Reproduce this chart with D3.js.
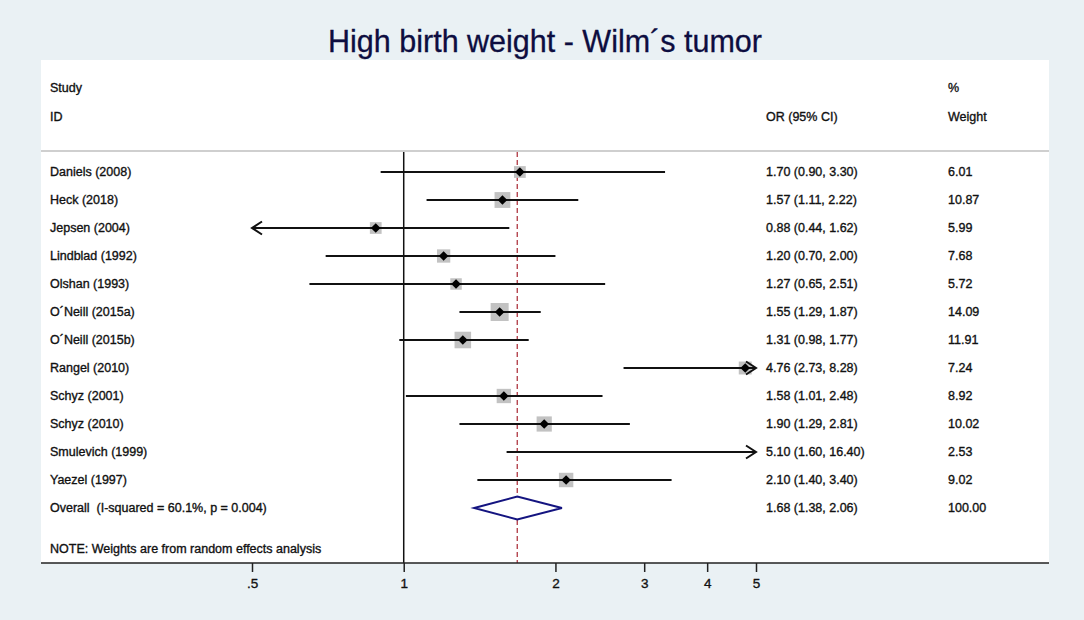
<!DOCTYPE html>
<html>
<head>
<meta charset="utf-8">
<script src="https://cdnjs.cloudflare.com/ajax/libs/d3/7.8.5/d3.min.js"></script>
<style>
  body { margin: 0; background: #eaf1f4; }
  svg { display: block; font-family: Arial, "Liberation Sans", sans-serif; }
  text { white-space: pre; }
  .lbl { stroke: #111; stroke-width: 0.35px; }
</style>
</head>
<body>
<div id="chart"></div>
<script>
// study data
var studies = ["Daniels (2008)", "Heck (2018)", "Jepsen (2004)", "Lindblad (1992)", "Olshan (1993)",
  "O\u00b4Neill (2015a)", "O\u00b4Neill (2015b)", "Rangel (2010)", "Schyz (2001)", "Schyz (2010)",
  "Smulevich (1999)", "Yaezel (1997)"];
var oddsRatio = [1.70, 1.57, 0.88, 1.20, 1.27, 1.55, 1.31, 4.76, 1.58, 1.90, 5.10, 2.10];
var ciLower = [0.90, 1.11, 0.44, 0.70, 0.65, 1.29, 0.98, 2.73, 1.01, 1.29, 1.60, 1.40];
var ciUpper = [3.30, 2.22, 1.62, 2.00, 2.51, 1.87, 1.77, 8.28, 2.48, 2.81, 16.40, 3.40];
var weights = [6.01, 10.87, 5.99, 7.68, 5.72, 14.09, 11.91, 7.24, 8.92, 10.02, 2.53, 9.02];

var overallLabel = "Overall  (I-squared = 60.1%, p = 0.004)";
var overallOR = 1.68, overallLower = 1.38, overallUpper = 2.06, overallWeight = 100;

var tickValues = [0.5, 1, 2, 3, 4, 5];
var tickLabels = [".5", "1", "2", "3", "4", "5"];

var width = 1084, height = 620;
var panelLeft = 41, panelRight = 1049, panelTop = 60, axisY = 563, headerLineY = 151;
var labelX = 50, orX = 766, weightX = 948;

var svg = d3.select("#chart").append("svg")
  .attr("width", width)
  .attr("height", height);

svg.append("rect")
  .attr("width", width).attr("height", height)
  .attr("fill", "#eaf1f4");

svg.append("rect")
  .attr("x", panelLeft).attr("y", panelTop)
  .attr("width", panelRight - panelLeft).attr("height", axisY - panelTop)
  .attr("fill", "#ffffff");

svg.append("text")
  .attr("x", width / 2 + 3).attr("y", 52)
  .attr("text-anchor", "middle")
  .attr("font-size", 30.5)
  .attr("fill", "#0d0d40")
  .attr("stroke", "#0d0d40").attr("stroke-width", 0.3)
  .text("High birth weight - Wilm\u00b4s tumor");

var x = d3.scaleLog().domain([0.5, 5]).range([252, 756]);
var rows = studies.concat([overallLabel]);
var y = d3.scalePoint().domain(rows).range([172, 508]);

function fmt(v) { return v.toFixed(2); }

// header
var head = svg.append("g").attr("font-size", 12.5).attr("fill", "#111").attr("class", "lbl");
head.append("text").attr("x", labelX).attr("y", 88).attr("dy", "0.35em").text("Study");
head.append("text").attr("x", labelX).attr("y", 117).attr("dy", "0.35em").text("ID");
head.append("text").attr("x", orX).attr("y", 117).attr("dy", "0.35em").text("OR (95% CI)");
head.append("text").attr("x", weightX).attr("y", 88).attr("dy", "0.35em").text("%");
head.append("text").attr("x", weightX).attr("y", 117).attr("dy", "0.35em").text("Weight");

svg.append("line")
  .attr("x1", panelLeft).attr("x2", panelRight)
  .attr("y1", headerLineY).attr("y2", headerLineY)
  .attr("stroke", "#cfcfcf").attr("stroke-width", 2);

// null line at 1
svg.append("line")
  .attr("x1", x(1)).attr("x2", x(1))
  .attr("y1", headerLineY + 1).attr("y2", axisY)
  .attr("stroke", "#111").attr("stroke-width", 1.5);

// overall effect line
svg.append("line")
  .attr("x1", x(overallOR)).attr("x2", x(overallOR))
  .attr("y1", headerLineY + 1).attr("y2", axisY)
  .attr("stroke", "#b5454f").attr("stroke-width", 1.4)
  .attr("stroke-dasharray", "5,3");

var dMin = x.domain()[0], dMax = x.domain()[1];

var data = studies.map(function(s, i) {
  return { name: s, or: oddsRatio[i], lo: ciLower[i], hi: ciUpper[i], w: weights[i] };
});

var g = svg.selectAll(".study")
  .data(data)
  .enter().append("g")
  .attr("class", "study");

// weight boxes
g.filter(function(d) { return d.or >= dMin && d.or <= dMax; })
  .append("rect")
  .attr("x", function(d) { return x(d.or) - 2.4 * Math.sqrt(d.w); })
  .attr("y", function(d) { return y(d.name) - 2.4 * Math.sqrt(d.w); })
  .attr("width", function(d) { return 4.8 * Math.sqrt(d.w); })
  .attr("height", function(d) { return 4.8 * Math.sqrt(d.w); })
  .attr("fill", "#c2c2c2");

// confidence intervals
g.append("line")
  .attr("x1", function(d) { return x(Math.max(d.lo, dMin)); })
  .attr("x2", function(d) { return x(Math.min(d.hi, dMax)); })
  .attr("y1", function(d) { return y(d.name); })
  .attr("y2", function(d) { return y(d.name); })
  .attr("stroke", "#111").attr("stroke-width", 2);

// arrows when the interval leaves the axis
g.filter(function(d) { return d.lo < dMin; })
  .append("path")
  .attr("d", function(d) {
    var ax = x(dMin), ay = y(d.name);
    return "M" + (ax + 10) + "," + (ay - 6.5) + "L" + ax + "," + ay + "L" + (ax + 10) + "," + (ay + 6.5);
  })
  .attr("fill", "none").attr("stroke", "#111").attr("stroke-width", 2);

g.filter(function(d) { return d.hi > dMax; })
  .append("path")
  .attr("d", function(d) {
    var ax = x(dMax), ay = y(d.name);
    return "M" + (ax - 10) + "," + (ay - 6.5) + "L" + ax + "," + ay + "L" + (ax - 10) + "," + (ay + 6.5);
  })
  .attr("fill", "none").attr("stroke", "#111").attr("stroke-width", 2);

// point estimate marker
g.filter(function(d) { return d.or >= dMin && d.or <= dMax; })
  .append("path")
  .attr("d", function(d) {
    var px = x(d.or), py = y(d.name), r = 4.8;
    return "M" + px + "," + (py - r) + "L" + (px + r) + "," + py + "L" + px + "," + (py + r) + "L" + (px - r) + "," + py + "Z";
  })
  .attr("fill", "#000");

// text columns
g.append("text")
  .attr("class", "lbl")
  .attr("x", labelX).attr("y", function(d) { return y(d.name); })
  .attr("dy", "0.35em").attr("font-size", 12.5).attr("fill", "#111")
  .text(function(d) { return d.name; });

g.append("text")
  .attr("class", "lbl")
  .attr("x", orX).attr("y", function(d) { return y(d.name); })
  .attr("dy", "0.35em").attr("font-size", 12.5).attr("fill", "#111")
  .text(function(d) { return fmt(d.or) + " (" + fmt(d.lo) + ", " + fmt(d.hi) + ")"; });

g.append("text")
  .attr("class", "lbl")
  .attr("x", weightX).attr("y", function(d) { return y(d.name); })
  .attr("dy", "0.35em").attr("font-size", 12.5).attr("fill", "#111")
  .text(function(d) { return fmt(d.w); });

// overall diamond
var oy = y(overallLabel);
svg.append("path")
  .attr("d", "M" + x(overallLower) + "," + oy +
    "L" + x(overallOR) + "," + (oy - 11.5) +
    "L" + x(overallUpper) + "," + oy +
    "L" + x(overallOR) + "," + (oy + 11.5) + "Z")
  .attr("fill", "#fff").attr("stroke", "#141480").attr("stroke-width", 2);

svg.append("text").attr("class", "lbl").attr("x", labelX).attr("y", oy).attr("dy", "0.35em")
  .attr("font-size", 12.5).attr("fill", "#111").text(overallLabel);
svg.append("text").attr("class", "lbl").attr("x", orX).attr("y", oy).attr("dy", "0.35em")
  .attr("font-size", 12.5).attr("fill", "#111")
  .text(fmt(overallOR) + " (" + fmt(overallLower) + ", " + fmt(overallUpper) + ")");
svg.append("text").attr("class", "lbl").attr("x", weightX).attr("y", oy).attr("dy", "0.35em")
  .attr("font-size", 12.5).attr("fill", "#111").text(fmt(overallWeight));

svg.append("text").attr("class", "lbl").attr("x", labelX).attr("y", 549).attr("dy", "0.35em")
  .attr("font-size", 12.5).attr("fill", "#111")
  .text("NOTE: Weights are from random effects analysis");

// x axis
var axis = d3.axisBottom(x)
  .tickValues(tickValues)
  .tickFormat(function(d, i) { return tickLabels[i]; })
  .tickSize(9)
  .tickPadding(6);

var ax = svg.append("g")
  .attr("transform", "translate(0," + axisY + ")")
  .call(axis);
ax.select(".domain").remove();
ax.selectAll(".tick line").attr("stroke", "#222").attr("stroke-width", 1.5);
ax.selectAll(".tick text").attr("font-size", 13.5).attr("fill", "#111")
  .attr("class", "lbl")
  .attr("font-family", "Arial, 'Liberation Sans', sans-serif");

svg.append("line")
  .attr("x1", panelLeft).attr("x2", panelRight)
  .attr("y1", axisY).attr("y2", axisY)
  .attr("stroke", "#222").attr("stroke-width", 1.5);
</script>
</body>
</html>
